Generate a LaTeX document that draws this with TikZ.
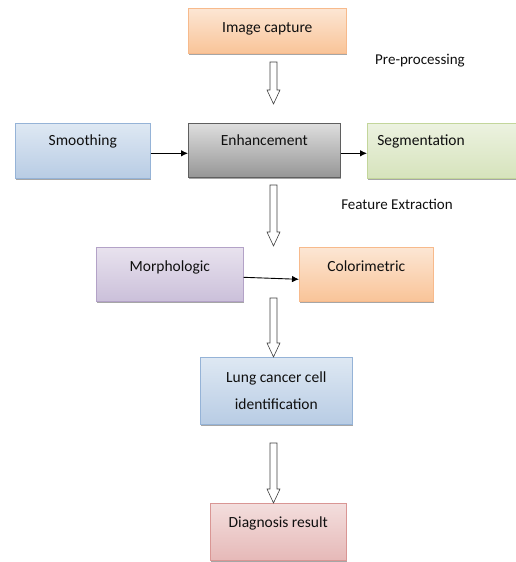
\documentclass[tikz,border=0pt]{standalone}
\usepackage{fontspec}
\setmainfont{Carlito}
\usetikzlibrary{shadows,arrows.meta,calc}
\definecolor{peachT}{RGB}{252,230,212}
\definecolor{peachB}{RGB}{249,196,152}
\definecolor{peachD}{RGB}{247,186,140}
\definecolor{blueT}{RGB}{222,232,243}
\definecolor{blueB}{RGB}{184,204,228}
\definecolor{blueD}{RGB}{149,179,215}
\definecolor{grayT}{RGB}{222,222,222}
\definecolor{grayB}{RGB}{150,150,150}
\definecolor{grayD}{RGB}{95,95,95}
\definecolor{greenT}{RGB}{236,242,224}
\definecolor{greenB}{RGB}{214,227,188}
\definecolor{greenD}{RGB}{195,214,155}
\definecolor{purpT}{RGB}{232,226,238}
\definecolor{purpB}{RGB}{203,192,218}
\definecolor{purpD}{RGB}{179,162,199}
\definecolor{pinkT}{RGB}{243,222,221}
\definecolor{pinkB}{RGB}{230,185,184}
\definecolor{pinkD}{RGB}{217,150,148}
\definecolor{txt}{RGB}{15,15,15}
\tikzset{
  box/.style={draw, line width=0.6pt, inner sep=0pt, anchor=north west,
    font=\fontsize{15.5}{18}\selectfont, text=txt,
    drop shadow={shadow xshift=1pt, shadow yshift=-2pt, opacity=0.35, fill=black}},
  peach/.style={draw=peachD, top color=peachT, bottom color=peachB},
  bluebox/.style={draw=blueD, top color=blueT, bottom color=blueB},
  graybox/.style={draw=grayD, top color=grayT, bottom color=grayB},
  greenbox/.style={draw=greenD, top color=greenT, bottom color=greenB},
  purpbox/.style={draw=purpD, top color=purpT, bottom color=purpB},
  pinkbox/.style={draw=pinkD, top color=pinkT, bottom color=pinkB},
  lbl/.style={font=\fontsize{15}{18}\selectfont, text=txt},
  flow/.style={line width=0.9pt, -{Latex[length=7pt,width=6.5pt]}},
  hollow/.style={draw=black!75, fill=white, line width=0.6pt,
    to path={let \p1=(\tikztostart), \p2=(\tikztotarget) in
      (\x1-3.5pt,\y1) -- (\x1+3.5pt,\y1) -- (\x1+3.5pt,\y2+14pt) -- (\x1+6.5pt,\y2+14pt)
      -- (\x2,\y2) -- (\x1-6.5pt,\y2+14pt) -- (\x1-3.5pt,\y2+14pt) -- cycle}}
}
\begin{document}
\begin{tikzpicture}[x=1pt,y=-1pt]
\useasboundingbox (0,0) rectangle (516,562);
% boxes
\node[box,peach,minimum width=158pt,text height=24pt,text depth=21pt] (cap) at (188,8) {Image capture};
\node[box,bluebox,minimum width=135pt,text height=22pt,text depth=33pt] (smooth) at (15,123) {Smoothing};
\node[box,graybox,minimum width=152pt,text height=22pt,text depth=32pt] (enh) at (188,123) {Enhancement};
\node[box,greenbox,text width=139pt,inner xsep=10pt,align=left,text height=22pt,text depth=33pt] (seg) at (367,123) {Segmentation};
\node[box,purpbox,minimum width=147pt,text height=24pt,text depth=30pt] (morph) at (96,247) {Morphologic};
\node[box,peach,minimum width=134pt,text height=24pt,text depth=30pt] (color) at (299,247) {Colorimetric};
\node[box,bluebox,minimum width=152pt,minimum height=67pt,align=center,font=\fontsize{15.5}{27}\selectfont] (lung) at (200,357) {Lung cancer cell\\identification};
\node[box,pinkbox,minimum width=136pt,text height=24pt,text depth=33pt] (diag) at (210,503) {Diagnosis result};
% labels
\node[lbl] (pre) at (420,61) {Pre-processing};
\node[lbl] (feat) at (397,204) {Feature Extraction};
% black arrows
\draw[flow] ([yshift=-2.5pt]smooth.east) -- ([yshift=-3pt]enh.west);
\draw[flow] ([yshift=-3pt]enh.east) -- ([yshift=-2.5pt]seg.west);
\draw[flow] ([yshift=-3pt]morph.east) -- ([yshift=-5pt]color.west);
% hollow arrows
\coordinate (a1s) at (273.5,62);  \coordinate (a1e) at (273.5,104);
\coordinate (a2s) at (273.5,185); \coordinate (a2e) at (273.5,246);
\coordinate (a3s) at (273.5,298); \coordinate (a3e) at (273.5,357);
\coordinate (a4s) at (273.5,443); \coordinate (a4e) at (273.5,503);
\path[hollow] (a1s) to (a1e);
\path[hollow] (a2s) to (a2e);
\path[hollow] (a3s) to (a3e);
\path[hollow] (a4s) to (a4e);
\end{tikzpicture}
\end{document}
